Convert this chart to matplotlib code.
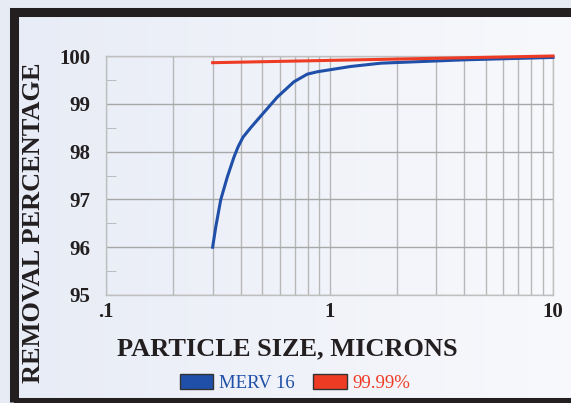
import numpy as np
import matplotlib
matplotlib.use("Agg")
import matplotlib.pyplot as plt
from matplotlib.patches import Rectangle, Patch
from matplotlib.ticker import FixedLocator, NullFormatter

# values
merv_x = [0.3, 0.31, 0.326, 0.349, 0.374, 0.39, 0.41, 0.444, 0.509, 0.584,
          0.693, 0.795, 0.882, 1.24, 1.7, 4.0, 10]
merv_y = [96.0, 96.43, 96.99, 97.47, 97.89, 98.10, 98.30, 98.50, 98.82, 99.14,
          99.46, 99.62, 99.67, 99.78, 99.85, 99.92, 99.97]
ref_x = [0.3, 10]
ref_y = [99.86, 100.0]
series_names = ["MERV 16", "99.99%"]
xtick_vals = [0.1, 1, 10]
xtick_labels = [".1", "1", "10"]
ytick_vals = [95, 96, 97, 98, 99, 100]

blue = "#1f4fa8"
red = "#ee3b24"
serif = ["Liberation Serif", "DejaVu Serif"]

fig = plt.figure(figsize=(5.71, 4.03), dpi=100)
fig.patch.set_facecolor("#e7ebf4")

# gradient panel inside the black frame
bg = fig.add_axes([0, 0, 1, 1], zorder=-10)
bg.set_axis_off()
grad = np.linspace(0, 1, 256)[None, :]
cmap = matplotlib.colors.LinearSegmentedColormap.from_list("bg", ["#e8ecf6", "#f8f9fc"])
bg.imshow(grad, cmap=cmap, aspect="auto", extent=[18, 571, 0, 388])
bg.set_xlim(0, 571)
bg.set_ylim(0, 403)
bg.add_patch(Rectangle((14, 1), 600, 390, fill=False, ec="#231f20", lw=6.5))

ax = fig.add_axes([106 / 571, 1 - 295 / 403, (553 - 106) / 571, (295 - 56) / 403])
ax.set_facecolor("none")
ax.set_xscale("log")
ax.set_xlim(0.1, 10)
ax.set_ylim(95, 100)

minor_x = [m * d for d in (0.1, 1) for m in range(2, 10)]
ax.xaxis.set_minor_locator(FixedLocator(minor_x))
ax.xaxis.set_minor_formatter(NullFormatter())
ax.set_xticks(xtick_vals)
ax.set_xticklabels(xtick_labels)
ax.set_yticks(ytick_vals)
ax.set_yticks([95.5, 96.5, 97.5, 98.5, 99.5], minor=True)

ax.grid(True, which="major", axis="y", color="#a8a8a8", lw=1)
ax.grid(True, which="both", axis="x", color="#b8b8b8", lw=1)
ax.tick_params(axis="x", which="both", length=0, pad=5)
ax.tick_params(axis="y", which="major", length=0, pad=11)
ax.tick_params(axis="y", which="minor", direction="in", length=7, color="#b4b4b4")
for lab in ax.get_xticklabels() + ax.get_yticklabels():
    lab.set_fontfamily(serif)
    lab.set_fontweight("bold")
    lab.set_fontsize(15)
    lab.set_color("#231f20")
for s in ax.spines.values():
    s.set_color("#c0c0c0")
    s.set_linewidth(1)

ax.plot(merv_x, merv_y, color=blue, lw=2.2, clip_on=False, zorder=3)
ax.plot(ref_x, ref_y, color=red, lw=2.2, clip_on=False, zorder=4)

fig.text(287 / 571, 1 - 349 / 403, "PARTICLE SIZE, MICRONS", ha="center", va="center",
         family=serif, weight="bold", fontsize=19, color="#231f20")
fig.text(34 / 571, 1 - 223 / 403, "REMOVAL PERCENTAGE", ha="center", va="center",
         rotation=90, family=serif, weight="bold", fontsize=19, color="#231f20")

handles = [Patch(facecolor=blue, edgecolor="#333333", lw=1),
           Patch(facecolor=red, edgecolor="#333333", lw=1)]
fig.legend(handles, series_names, loc="center", bbox_to_anchor=(295 / 571, 1 - 383 / 403),
           ncol=2, frameon=False, labelcolor=[blue, red], handlelength=1.8,
           handleheight=0.9, handletextpad=0.3, columnspacing=1.0,
           prop={"family": serif, "size": 13.5})

fig.savefig("out.png", dpi=100)
